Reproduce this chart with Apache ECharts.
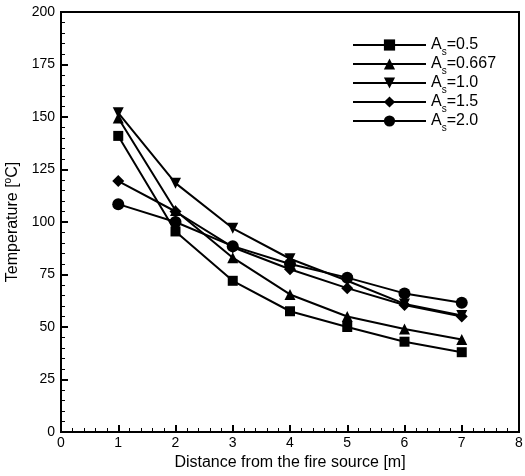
<!DOCTYPE html>
<html><head><meta charset="utf-8">
<script src="https://cdn.jsdelivr.net/npm/echarts@6/dist/echarts.min.js"></script>
<style>html,body{margin:0;padding:0;background:#fff}#c{width:525px;height:476px}</style>
</head><body><div id="c"></div>
<script>
const distances = [1, 2, 3, 4, 5, 6, 7];
const as05 = [141, 95.5, 72, 57.5, 50, 43, 38];
const as0667 = [149.5, 105.5, 83, 65.5, 55, 49, 44];
const as10 = [152, 118.5, 97, 82.5, 72, 61, 55.5];
const as15 = [119.5, 105, 88, 77.5, 68.5, 60.5, 55];
const as20 = [108.5, 100, 88.5, 80, 73.5, 66, 61.5];
const seriesNames = ['A_s=0.5', 'A_s=0.667', 'A_s=1.0', 'A_s=1.5', 'A_s=2.0'];
const seriesLabels = ['0.5', '0.667', '1.0', '1.5', '2.0'];
const yTicks = [0, 25, 50, 75, 100, 125, 150, 175, 200];
const xTicks = [0, 1, 2, 3, 4, 5, 6, 7, 8];

const symbols = [
  ['rect', 10],
  ['triangle', 11],
  ['path://M0,0 L10,0 L5,9 Z', 11],
  ['diamond', 12],
  ['circle', 12]
];
const allData = [as05, as0667, as10, as15, as20];
const font = 'Liberation Sans, Arial, sans-serif';

const series = allData.map((arr, i) => ({
  name: seriesNames[i],
  type: 'line',
  data: distances.map((d, j) => [d, arr[j]]),
  symbol: symbols[i][0],
  symbolSize: symbols[i][1],
  showAllSymbol: true,
  lineStyle: { color: '#000', width: 2 },
  itemStyle: { color: '#000', borderWidth: 0 },
  emphasis: { disabled: true },
  animation: false,
  z: 2 + i
}));

const chart = echarts.init(document.getElementById('c'), null, { renderer: 'canvas' });
chart.setOption({
  animation: false,
  backgroundColor: '#fff',
  grid: { left: 61, right: 6, top: 12, bottom: 44, show: true, borderColor: '#000', borderWidth: 2, backgroundColor: 'transparent', containLabel: false, outerBoundsMode: 'none' },
  legend: {
    orient: 'vertical',
    left: 347, top: 32,
    itemWidth: 73, itemHeight: 14,
    itemGap: -1,
    selectedMode: false,
    data: seriesNames,
    formatter: function (name) {
      const idx = seriesNames.indexOf(name);
      return '{a|A}{s|s}{a|=' + seriesLabels[idx] + '}';
    },
    textStyle: {
      color: '#000',
      rich: {
        a: { fontFamily: font, fontSize: 16, color: '#000', verticalAlign: 'bottom', lineHeight: 16 },
        s: { fontFamily: font, fontSize: 10, color: '#000', verticalAlign: 'bottom', lineHeight: 10, padding: [0, 0, -4, 0] }
      }
    }
  },
  xAxis: {
    type: 'value', min: xTicks[0], max: xTicks[xTicks.length - 1], interval: 1,
    name: 'Distance from the fire source [m]', nameLocation: 'middle', nameGap: 22,
    nameTextStyle: { fontFamily: font, fontSize: 16, color: '#000' },
    axisLine: { lineStyle: { color: '#000', width: 2 } },
    axisTick: { inside: true, length: 7, lineStyle: { color: '#000', width: 2 } },
    minorTick: { show: true, splitNumber: 5, length: 4, lineStyle: { color: '#000', width: 1 } },
    axisLabel: { fontFamily: font, fontSize: 14, color: '#000', margin: 4 },
    splitLine: { show: false }
  },
  yAxis: {
    type: 'value', min: yTicks[0], max: yTicks[yTicks.length - 1], interval: 25,
    name: 'Temperature [{sup|o}C]', nameLocation: 'middle', nameGap: 33, nameRotate: 90,
    nameTextStyle: {
      fontFamily: font, fontSize: 16, color: '#000',
      rich: { sup: { fontFamily: font, fontSize: 10, color: '#000', verticalAlign: 'top', padding: [0, 0, 8, 0] } }
    },
    axisLine: { lineStyle: { color: '#000', width: 2 } },
    axisTick: { inside: true, length: 7, lineStyle: { color: '#000', width: 2 } },
    minorTick: { show: true, splitNumber: 5, length: 4, lineStyle: { color: '#000', width: 1 } },
    axisLabel: { fontFamily: font, fontSize: 14, color: '#000', margin: 6 },
    splitLine: { show: false }
  },
  series: series
});
</script></body></html>
